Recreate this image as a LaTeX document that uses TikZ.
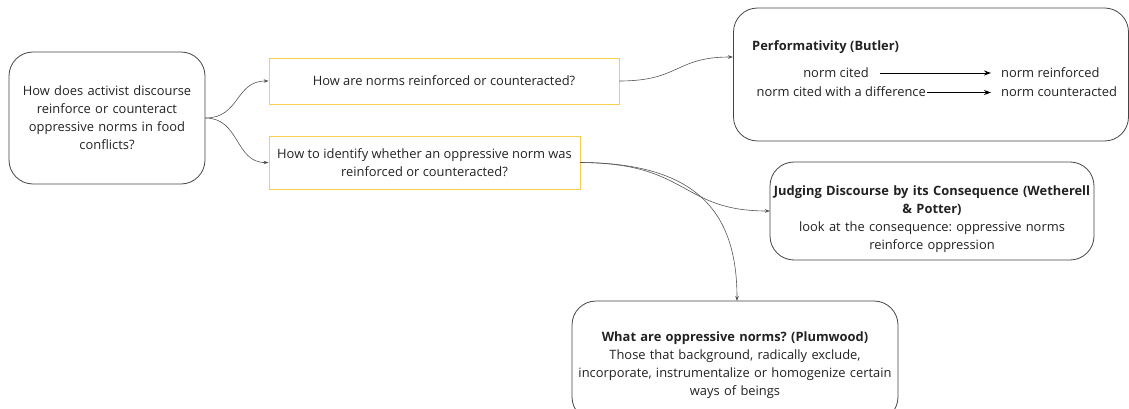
\documentclass[tikz,border=0pt]{standalone}
\usepackage{fontspec}
\setmainfont{Open Sans}
\usetikzlibrary{arrows.meta}
\definecolor{txt}{HTML}{222222}
\definecolor{bord}{HTML}{444444}
\definecolor{ylw}{HTML}{F5CF4F}
\definecolor{conn}{HTML}{555555}
\begin{document}
\frenchspacing
\begin{tikzpicture}[x=1pt,y=-1pt,
  font=\fontsize{12.9}{18}\selectfont, text=txt,
  roundbox/.style={draw=bord, line width=0.8pt, rounded corners=24pt, inner sep=0pt, align=center},
  qbox/.style={draw=ylw, line width=0.8pt, inner sep=0pt, align=center},
  conn/.style={draw=conn, line width=0.6pt, -{Stealth[length=5pt,width=3.5pt]}},
  inarrow/.style={draw=black, line width=0.9pt, -{Stealth[length=7pt,width=5pt]}},
  lbl/.style={inner sep=0pt, anchor=base},
  txtblock/.style={inner sep=0pt, align=center}]
\useasboundingbox (0,0) rectangle (1129,409);
% main question
\node[roundbox, minimum width=196pt, minimum height=132pt, text width=185pt] (A) at (107,118)
  {How does activist discourse\\reinforce or counteract\\oppressive norms in food\\conflicts?};
% sub questions
\node[qbox, minimum width=350pt, minimum height=46pt] (B) at (444,81)
  {How are norms reinforced or counteracted?};
\node[qbox, minimum width=311pt, minimum height=53pt] (C) at (424.5,162.5)
  {How to identify whether an oppressive norm was\\reinforced or counteracted?};
% Performativity
\node[roundbox, minimum width=395pt, minimum height=133pt] (D) at (931,74.5) {};
\node[lbl, anchor=base west] (Dt) at (752,51) {\textbf{Performativity (Butler)}};
\node[lbl] (n1) at (836,77.5) {norm cited};
\node[lbl, anchor=base west] (r1) at (1001,77.5) {norm reinforced};
\node[lbl, anchor=base east] (n2) at (926,97) {norm cited with a difference};
\node[lbl, anchor=base west] (r2) at (1001,97) {norm counteracted};
\coordinate (a1s) at (880,73);
\coordinate (a1e) at (991,73);
\coordinate (a2s) at (927,92.5);
\coordinate (a2e) at (991,92.5);
\draw[inarrow] (a1s) -- (a1e);
\draw[inarrow] (a2s) -- (a2e);
% Judging
\node[roundbox, minimum width=324pt, minimum height=98pt] (E) at (932,211) {};
\node[txtblock, text width=318pt] (Et) at (932,219)
  {\textbf{Judging Discourse by its Consequence (Wetherell}\\\textbf{\& Potter)}\\look at the consequence: oppressive norms\\reinforce oppression};
% Plumwood
\node[roundbox, minimum width=326pt, minimum height=120pt] (F) at (735,361) {};
\node[txtblock, text width=322pt] (Ft) at (735,365)
  {\textbf{What are oppressive norms? (Plumwood)}\\Those that background, radically exclude,\\incorporate, instrumentalize or homogenize certain\\ways of beings};
% connectors
\coordinate (Dl) at (733,57);
\coordinate (El) at (770,211);
\coordinate (Ftop) at (737,301);
\draw[conn] (A.east) .. controls (240,118) and (235,81) .. (B.west);
\draw[conn] (A.east) .. controls (240,118) and (235,163) .. (C.west);
\draw[conn] (B.east) .. controls (680,81) and (675,57) .. (Dl);
\draw[conn] (C.east) .. controls (690,163) and (680,211) .. (El);
\draw[conn] (C.east) .. controls (700,163) and (737,215) .. (Ftop);
\end{tikzpicture}
\end{document}
